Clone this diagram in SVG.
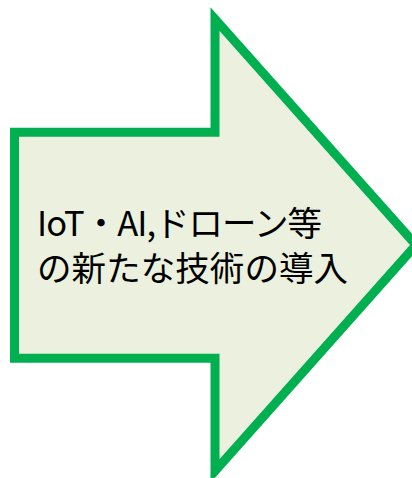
<svg xmlns="http://www.w3.org/2000/svg" width="412" height="478" viewBox="0 0 412 478">
  <style>
    .arrow { fill: #EBF1DE; stroke: #00B050; stroke-width: 9; stroke-linejoin: miter; stroke-miterlimit: 10; }
    .label { font-family: "Meiryo UI", "Noto Sans CJK JP", "Noto Sans", sans-serif; font-size: 34.5px; fill: #000000; }
  </style>
  <g id="arrow-node">
    <polygon class="arrow" points="14.5,132.3 215,132.3 215,19 416,245 215,471 215,358.3 14.5,358.3"/>
    <text class="label" x="37" y="236" textLength="285" lengthAdjust="spacing">IoT・AI,ドローン等</text>
    <text class="label" x="37" y="281" textLength="311" lengthAdjust="spacing">の新たな技術の導入</text>
  </g>
  <g id="connectors"></g>
</svg>
